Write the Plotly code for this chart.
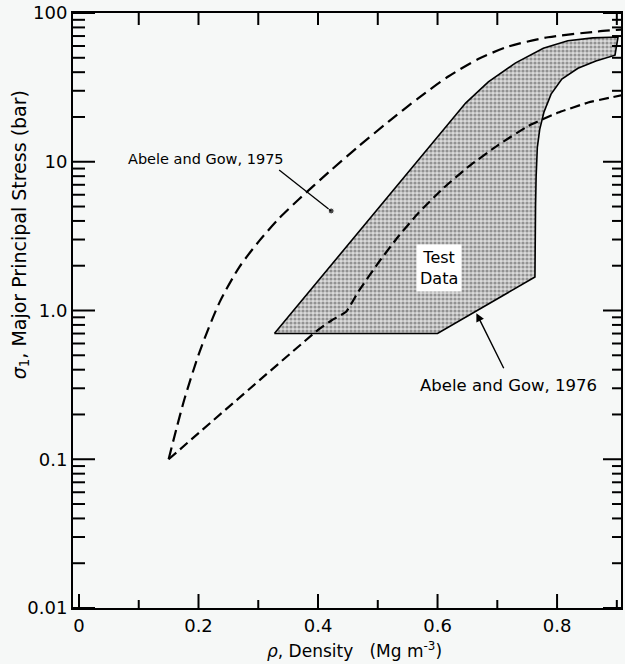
import plotly.graph_objects as go
import math

# ---- data ----
# Abele and Gow, 1975 (upper dashed curve)
ag75_density = [0.150, 0.163, 0.177, 0.202, 0.235, 0.268, 0.302, 0.335, 0.368, 0.418,
                0.468, 0.518, 0.568, 0.618, 0.668, 0.718, 0.785, 0.868, 0.910]
ag75_stress = [0.10, 0.16, 0.258, 0.53, 1.13, 1.95, 2.95, 4.17, 5.6, 8.51,
               12.7, 18.6, 26.8, 37.4, 49.0, 59.4, 68.7, 75.1, 77.5]

# Abele and Gow, 1976 (lower dashed curve)
ag76_density = [0.150, 0.400, 0.423, 0.447, 0.468, 0.502, 0.535, 0.568, 0.610, 0.652,
                0.702, 0.752, 0.802, 0.852, 0.910]
ag76_stress = [0.10, 0.74, 0.86, 0.98, 1.35, 2.12, 3.17, 4.52, 6.66, 9.29,
               13.0, 17.4, 21.4, 25.0, 28.1]

# Test data envelope (closed polygon)
test_density = [0.327, 0.485, 0.573, 0.613, 0.647, 0.685, 0.730, 0.777, 0.818, 0.860,
                0.902, 0.897, 0.865, 0.835, 0.808, 0.790, 0.778, 0.771, 0.767, 0.765,
                0.764, 0.763, 0.600, 0.327]
test_stress = [0.70, 4.06, 10.8, 17.1, 24.8, 34.4, 46.0, 58.0, 65.0, 68.0,
               69.0, 52.0, 47.5, 42.5, 36.0, 28.5, 21.5, 16.5, 12.5, 8.0,
               5.0, 1.68, 0.70, 0.70]

# pointer lines (label -> curve)
ptr75_density = [0.335, 0.422]
ptr75_stress = [8.8, 4.67]
ptr76_tail = [0.712, 0.40]
ptr76_tip = [0.665, 0.96]

# label positions
lbl75 = [0.213, 10.4]
lbl76 = [0.718, 0.315]
lbl_test = [0.602, 1.93]

x_major = [0, 0.2, 0.4, 0.6, 0.8]
x_major_text = ["0", "0.2", "0.4", "0.6", "0.8"]
x_minor = [0.1, 0.3, 0.5, 0.7, 0.9]
x_top = [0.1, 0.2, 0.3, 0.4, 0.5, 0.6, 0.7, 0.8, 0.9]
y_major = [0.01, 0.1, 1, 10, 100]
y_major_text = ["0.01", "0.1", "1.0", "10", "100"]
y_minor = [m * 10 ** e for e in (-2, -1, 0, 1) for m in range(2, 10)]

x_range = [-0.01, 0.907]
y_range = [-2, 2]

FONT = "DejaVu Sans"
BG = "#f6f8f7"

fig = go.Figure()

fig.add_trace(go.Scatter(
    x=test_density, y=test_stress, mode="lines", fill="toself",
    fillcolor="#cfcfcf",
    fillpattern=dict(shape=".", size=4, solidity=0.5, fgcolor="#4a4a4a", bgcolor="#dadada"),
    line=dict(color="black", width=1.6), hoverinfo="skip", showlegend=False))

fig.add_trace(go.Scatter(
    x=ag75_density, y=ag75_stress, mode="lines", line_shape="spline",
    line=dict(color="black", width=2.2, dash="12px,6px", smoothing=0.7), showlegend=False))

fig.add_trace(go.Scatter(
    x=ag76_density, y=ag76_stress, mode="lines", line_shape="spline",
    line=dict(color="black", width=2.2, dash="10px,5px", smoothing=0.4), showlegend=False))

fig.add_trace(go.Scatter(
    x=ptr75_density, y=ptr75_stress, mode="lines+markers",
    line=dict(color="black", width=1.3), marker=dict(size=[0, 6], color="black"),
    showlegend=False))

fig.add_annotation(x=lbl75[0], y=math.log10(lbl75[1]), text="Abele and Gow, 1975",
                   showarrow=False, font=dict(family=FONT, size=14.5, color="black"))
fig.add_annotation(x=lbl76[0], y=math.log10(lbl76[1]), text="Abele and Gow, 1976",
                   showarrow=False, font=dict(family=FONT, size=16.5, color="black"))
fig.add_annotation(x=lbl_test[0], y=math.log10(lbl_test[1]), text="Test<br>Data",
                   showarrow=False, bgcolor="white", borderpad=3,
                   font=dict(family=FONT, size=16, color="black"))
fig.add_annotation(x=ptr76_tip[0], y=math.log10(ptr76_tip[1]),
                   ax=ptr76_tail[0], ay=math.log10(ptr76_tail[1]),
                   axref="x", ayref="y", xref="x", yref="y", text="",
                   showarrow=True, arrowhead=2, arrowsize=1.2, arrowwidth=1.4,
                   arrowcolor="black")

# axis titles as annotations
fig.add_annotation(xref="paper", yref="paper", x=-0.097, y=0.628, textangle=-90,
                   text="<i>σ</i><sub>1</sub>, Major Principal Stress (bar)",
                   showarrow=False, xanchor="center", yanchor="middle",
                   font=dict(family=FONT, size=19, color="black"))
fig.add_annotation(xref="paper", yref="paper", x=0.513, y=-0.071,
                   text="<i>ρ</i>, Density\u00a0\u00a0\u00a0(Mg m<sup>-3</sup>)",
                   showarrow=False, xanchor="center", yanchor="middle",
                   font=dict(family=FONT, size=17, color="black"))

# tick marks drawn as pixel-sized shapes anchored on the axes
tick_line = dict(color="black", width=2)
shapes = []
for v in x_major:
    shapes.append(dict(type="line", xref="x", yref="paper", x0=v, x1=v,
                       ysizemode="pixel", yanchor=0, y0=0, y1=14, line=tick_line, layer="above"))
for v in x_minor:
    shapes.append(dict(type="line", xref="x", yref="paper", x0=v, x1=v,
                       ysizemode="pixel", yanchor=0, y0=0, y1=8, line=tick_line, layer="above"))
for v in x_top:
    shapes.append(dict(type="line", xref="x", yref="paper", x0=v, x1=v,
                       ysizemode="pixel", yanchor=1, y0=0, y1=-12, line=tick_line, layer="above"))
for v in y_major:
    shapes.append(dict(type="line", yref="y", xref="paper", y0=v, y1=v,
                       xsizemode="pixel", xanchor=0, x0=0, x1=22, line=tick_line, layer="above"))
    shapes.append(dict(type="line", yref="y", xref="paper", y0=v, y1=v,
                       xsizemode="pixel", xanchor=1, x0=0, x1=-18, line=tick_line, layer="above"))
for v in y_minor:
    shapes.append(dict(type="line", yref="y", xref="paper", y0=v, y1=v,
                       xsizemode="pixel", xanchor=0, x0=0, x1=12, line=tick_line, layer="above"))
    shapes.append(dict(type="line", yref="y", xref="paper", y0=v, y1=v,
                       xsizemode="pixel", xanchor=1, x0=0, x1=-9, line=tick_line, layer="above"))

fig.update_layout(
    width=625, height=664,
    margin=dict(l=73, r=2, t=13, b=56),
    paper_bgcolor=BG, plot_bgcolor=BG,
    font=dict(family=FONT, size=18, color="black"),
    showlegend=False,
    shapes=shapes,
    xaxis=dict(range=x_range, tickmode="array", tickvals=x_major, ticktext=x_major_text,
               ticks="", showgrid=False, zeroline=False, showline=True, mirror=True,
               linecolor="black", linewidth=2,
               tickfont=dict(family=FONT, size=18, color="black")),
    yaxis=dict(type="log", range=y_range, tickmode="array", tickvals=y_major,
               ticktext=y_major_text, ticks="", showgrid=False, zeroline=False,
               showline=True, mirror=True, linecolor="black", linewidth=2,
               tickfont=dict(family=FONT, size=18, color="black")),
)

fig.write_html("out.html")
